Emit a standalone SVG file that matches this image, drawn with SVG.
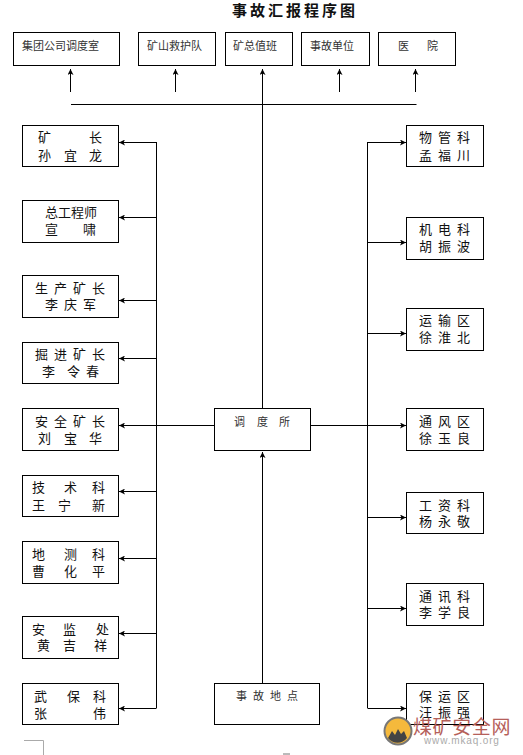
<svg xmlns="http://www.w3.org/2000/svg" width="523" height="755" viewBox="0 0 523 755">
<style>
text{font-family:"Noto Sans CJK SC","Liberation Sans",sans-serif;fill:#111}
.b{fill:#fff;stroke:#000;stroke-width:1}
.n{font-size:13px}
.s{font-size:11px;fill:#333}
.l{fill:none;stroke:#000;stroke-width:1}
</style>
<defs>
<marker id="a" markerWidth="7" markerHeight="6" refX="6" refY="3" orient="auto" markerUnits="userSpaceOnUse"><path d="M0 0L6 3L0 6L1.5 3Z" fill="#000"/></marker>
</defs>
<rect width="523" height="755" fill="#fff"/>
<text x="232" y="16" style="font-size:15px;font-weight:700;letter-spacing:3px;font-family:'Noto Sans CJK SC',sans-serif">事故汇报程序图</text>
<g id="connectors" class="l">
<path class="l" d="M71 104.500H416.500M156.500 142V708M367.500 142V708"/>
<path class="l" marker-end="url(#a)" d="M70.500 92V69"/>
<path class="l" marker-end="url(#a)" d="M175.500 92V69"/>
<path class="l" marker-end="url(#a)" d="M262.500 408V69"/>
<path class="l" marker-end="url(#a)" d="M339.500 92V69"/>
<path class="l" marker-end="url(#a)" d="M415.500 92V69"/>
<path class="l" marker-end="url(#a)" d="M156.500 142.500H119"/>
<path class="l" marker-end="url(#a)" d="M156.500 217.500H119"/>
<path class="l" marker-end="url(#a)" d="M156.500 300.500H119"/>
<path class="l" marker-end="url(#a)" d="M156.500 358.500H119"/>
<path class="l" marker-end="url(#a)" d="M214 425.500H119"/>
<path class="l" marker-end="url(#a)" d="M156.500 491.500H119"/>
<path class="l" marker-end="url(#a)" d="M156.500 558.500H119"/>
<path class="l" marker-end="url(#a)" d="M156.500 633.500H119"/>
<path class="l" marker-end="url(#a)" d="M156.500 708.500H119"/>
<path class="l" marker-end="url(#a)" d="M367.500 142.500H406"/>
<path class="l" marker-end="url(#a)" d="M367.500 242.500H406"/>
<path class="l" marker-end="url(#a)" d="M367.500 333.500H406"/>
<path class="l" marker-end="url(#a)" d="M310 425.500H406"/>
<path class="l" marker-end="url(#a)" d="M367.500 517.500H406"/>
<path class="l" marker-end="url(#a)" d="M367.500 608.500H406"/>
<path class="l" marker-end="url(#a)" d="M367.500 708.500H406"/>
<path class="l" marker-end="url(#a)" d="M262.500 683V452"/>
</g>
<g id="t1"><rect class="b" x="13.500" y="32.500" width="106" height="33"/><text class="s" x="22" y="50">集团公司调度室</text></g>
<g id="t2"><rect class="b" x="138.500" y="32.500" width="77" height="33"/><text class="s" x="147" y="50">矿山救护队</text></g>
<g id="t3"><rect class="b" x="225.500" y="32.500" width="67" height="33"/><text class="s" x="233" y="50">矿总值班</text></g>
<g id="t4"><rect class="b" x="301.500" y="32.500" width="68" height="33"/><text class="s" x="310" y="50">事故单位</text></g>
<g id="t5"><rect class="b" x="378.500" y="32.500" width="77" height="33"/><text class="s" x="398 427" y="50">医院</text></g>
<g id="l1"><rect class="b" x="22.500" y="125.500" width="96" height="41"/><text class="n" x="38 89" y="142">矿长</text><text class="n" x="38 64 89" y="160">孙宜龙</text></g>
<g id="l2"><rect class="b" x="22.500" y="200.500" width="96" height="42"/><text class="n" x="45 58 71 84" y="217">总工程师</text><text class="n" x="45 83" y="234">宣啸</text></g>
<g id="l3"><rect class="b" x="22.500" y="275.500" width="96" height="42"/><text class="n" x="35 54 73 92" y="293">生产矿长</text><text class="n" x="45 64 83" y="309">李庆军</text></g>
<g id="l4"><rect class="b" x="22.500" y="342.500" width="96" height="41"/><text class="n" x="35 54 73 92" y="359">掘进矿长</text><text class="n" x="42 67 86" y="376">李令春</text></g>
<g id="l5"><rect class="b" x="22.500" y="408.500" width="96" height="42"/><text class="n" x="35 54 73 92" y="426">安全矿长</text><text class="n" x="38 64 89" y="443">刘宝华</text></g>
<g id="l6"><rect class="b" x="22.500" y="475.500" width="96" height="41"/><text class="n" x="32 64 92" y="492">技术科</text><text class="n" x="32 58 92" y="510">王宁新</text></g>
<g id="l7"><rect class="b" x="22.500" y="541.500" width="96" height="42"/><text class="n" x="32 64 92" y="559">地测科</text><text class="n" x="32 64 92" y="576">曹化平</text></g>
<g id="l8"><rect class="b" x="22.500" y="616.500" width="96" height="42"/><text class="n" x="32 63 96" y="634">安监处</text><text class="n" x="37 63 94" y="650">黄吉祥</text></g>
<g id="l9"><rect class="b" x="22.500" y="683.500" width="96" height="41"/><text class="n" x="34 67 93" y="701">武保科</text><text class="n" x="34 93" y="718">张伟</text></g>
<g id="r1"><rect class="b" x="406.500" y="125.500" width="77" height="41"/><text class="n" x="419 438 457" y="142">物管科</text><text class="n" x="419 438 457" y="160">孟福川</text></g>
<g id="r2"><rect class="b" x="406.500" y="217.500" width="77" height="42"/><text class="n" x="419 438 457" y="234">机电科</text><text class="n" x="419 438 457" y="251">胡振波</text></g>
<g id="r3"><rect class="b" x="406.500" y="308.500" width="77" height="42"/><text class="n" x="419 438 457" y="325">运输区</text><text class="n" x="419 438 457" y="342">徐淮北</text></g>
<g id="r4"><rect class="b" x="406.500" y="408.500" width="77" height="42"/><text class="n" x="419 438 457" y="426">通风区</text><text class="n" x="419 438 457" y="443">徐玉良</text></g>
<g id="r5"><rect class="b" x="406.500" y="492.500" width="77" height="41"/><text class="n" x="419 438 457" y="510">工资科</text><text class="n" x="419 438 457" y="526">杨永敬</text></g>
<g id="r6"><rect class="b" x="406.500" y="583.500" width="77" height="42"/><text class="n" x="419 438 457" y="601">通讯科</text><text class="n" x="419 438 457" y="617">李学良</text></g>
<g id="r7"><rect class="b" x="406.500" y="683.500" width="77" height="41"/><text class="n" x="419 438 457" y="701">保运区</text><text class="n" x="419 438 457" y="717">汪振强</text></g>
<g id="center"><rect class="b" x="214.500" y="408.500" width="96" height="42"/><text class="s" x="234 257 279" y="426">调度所</text></g>
<g id="place"><rect class="b" x="214.500" y="683.500" width="105" height="41"/><text class="s" x="236 253 270 287" y="700">事故地点</text></g>
<path d="M24 740.500H43.500V755" fill="none" stroke="#aaa"/>
<path d="M283 754H290" fill="none" stroke="#777"/>
<g id="watermark">
<circle cx="398" cy="731" r="13.500" fill="#f5b93c" stroke="#777" stroke-width="2"/>
<path d="M388 738l4-7 3 4 3-6 3 5 3-3 3 7a12 12 0 0 1-19 0Z" fill="#444"/>
<text x="413" y="734" style="font-size:19px;font-family:'Noto Sans CJK SC',sans-serif;fill:#b5605a;letter-spacing:.6px">煤矿安全网</text>
<text x="424" y="744" style="font-size:10px;font-family:'Liberation Sans',sans-serif;fill:#aaa;letter-spacing:.85px">www.mkaq.org</text>
</g>
</svg>
